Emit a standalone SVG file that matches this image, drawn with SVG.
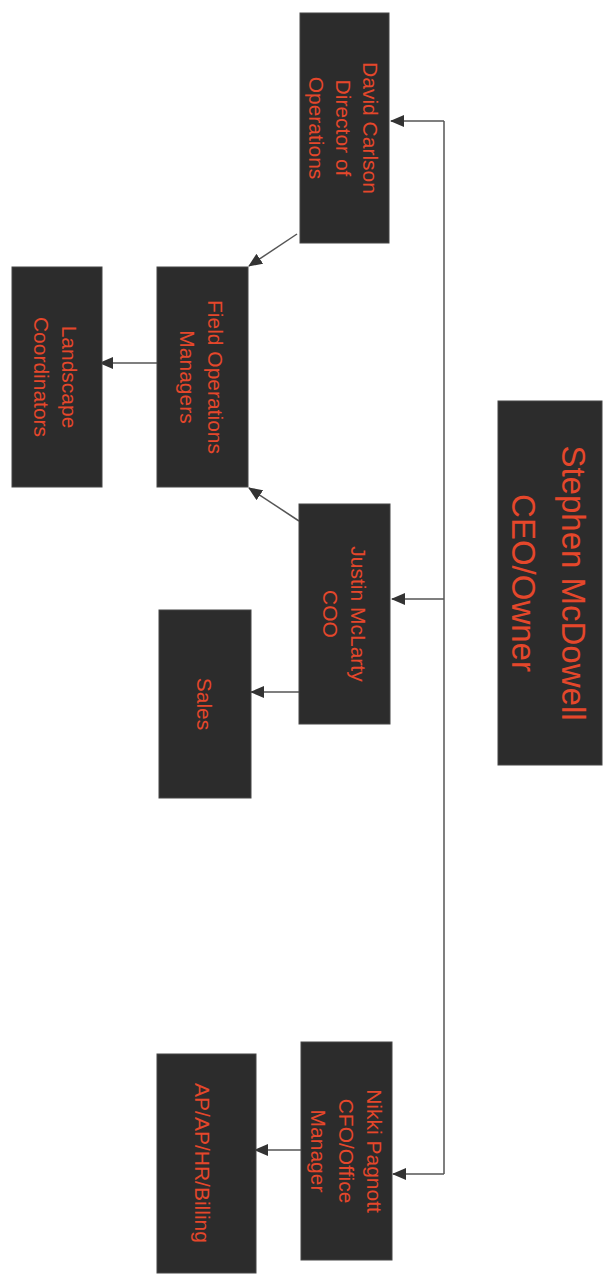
<svg xmlns="http://www.w3.org/2000/svg" width="605" height="1278" viewBox="0 0 605 1278">
<style>
.box{fill:#2c2c2c;stroke:#444;stroke-width:1}
.t{font-family:"Liberation Sans",Arial,sans-serif;fill:#e5472b;text-anchor:middle}
.s{font-size:21px}
.l{font-size:33px}
.c{fill:none;stroke:#555;stroke-width:1.5}
</style>
<defs>
<marker id="ah" markerUnits="userSpaceOnUse" markerWidth="14" markerHeight="12" refX="13" refY="6" orient="auto">
<path d="M0,0 L14,6 L0,12 z" fill="#333"/>
</marker>
</defs>
<rect width="605" height="1278" fill="#ffffff"/>
<g id="connectors">
<path class="c" d="M444,121 L444,1174"/>
<path class="c" d="M444,121 L391,121" marker-end="url(#ah)"/>
<path class="c" d="M444,599 L392,599" marker-end="url(#ah)"/>
<path class="c" d="M444,1174 L393,1174" marker-end="url(#ah)"/>
<path class="c" d="M297,234 L249,266" marker-end="url(#ah)"/>
<path class="c" d="M299,521 L249,488" marker-end="url(#ah)"/>
<path class="c" d="M157,363 L100,363" marker-end="url(#ah)"/>
<path class="c" d="M299,692 L251,692" marker-end="url(#ah)"/>
<path class="c" d="M301,1150 L255,1150" marker-end="url(#ah)"/>
</g>
<g id="ceo">
<rect class="box" x="498" y="401" width="104" height="364"/>
<text class="t l" transform="translate(574,583) rotate(90)" dy=".35em">Stephen McDowell</text>
<text class="t l" transform="translate(524,583) rotate(90)" dy=".35em">CEO/Owner</text>
</g>
<g id="david">
<rect class="box" x="300" y="13" width="89" height="230"/>
<text class="t s" transform="translate(370,128) rotate(90)" dy=".35em">David Carlson</text>
<text class="t s" transform="translate(343,128) rotate(90)" dy=".35em">Director of</text>
<text class="t s" transform="translate(316,128) rotate(90)" dy=".35em">Operations</text>
</g>
<g id="justin">
<rect class="box" x="299" y="504" width="91" height="220"/>
<text class="t s" transform="translate(358,614) rotate(90)" dy=".35em">Justin McLarty</text>
<text class="t s" transform="translate(330,614) rotate(90)" dy=".35em">COO</text>
</g>
<g id="nikki">
<rect class="box" x="301" y="1042" width="91" height="218"/>
<text class="t s" transform="translate(374,1151) rotate(90)" dy=".35em">Nikki Pagnott</text>
<text class="t s" transform="translate(346,1151) rotate(90)" dy=".35em">CFO/Office</text>
<text class="t s" transform="translate(318,1151) rotate(90)" dy=".35em">Manager</text>
</g>
<g id="fom">
<rect class="box" x="157" y="267" width="91" height="220"/>
<text class="t s" transform="translate(215,377) rotate(90)" dy=".35em">Field Operations</text>
<text class="t s" transform="translate(187,377) rotate(90)" dy=".35em">Managers</text>
</g>
<g id="landscape">
<rect class="box" x="12" y="267" width="90" height="220"/>
<text class="t s" transform="translate(69,377) rotate(90)" dy=".35em">Landscape</text>
<text class="t s" transform="translate(41,377) rotate(90)" dy=".35em">Coordinators</text>
</g>
<g id="sales">
<rect class="box" x="159" y="610" width="92" height="188"/>
<text class="t s" transform="translate(204,704) rotate(90)" dy=".35em">Sales</text>
</g>
<g id="ap">
<rect class="box" x="157" y="1054" width="99" height="219"/>
<text class="t s" transform="translate(202,1163) rotate(90)" dy=".35em">AP/AP/HR/Billing</text>
</g>
</svg>
